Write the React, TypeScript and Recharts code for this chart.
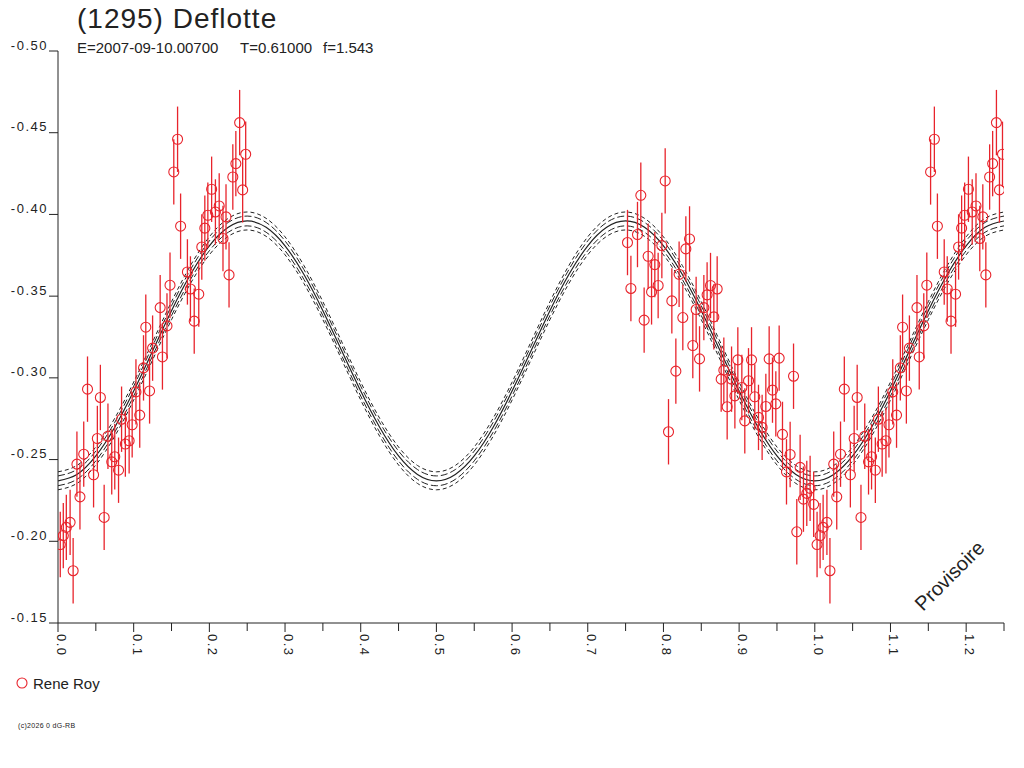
import React from 'react'
import {
  ComposedChart,
  Line,
  Scatter,
  ErrorBar,
  XAxis,
  YAxis,
} from 'recharts'

// observations, phase 0.00 - 0.25 (also plotted again at phase + 1)
const PHASE_A = [
  0.003, 0.007, 0.011, 0.016, 0.02, 0.025, 0.029, 0.034, 0.039, 0.047,
  0.052, 0.056, 0.061, 0.066, 0.071, 0.075, 0.08, 0.084, 0.089, 0.094,
  0.098, 0.103, 0.108, 0.113, 0.116, 0.121, 0.125, 0.135, 0.138, 0.144,
  0.148, 0.153, 0.158, 0.162, 0.171, 0.175, 0.18, 0.186, 0.19, 0.194,
  0.198, 0.203, 0.208, 0.213, 0.218, 0.222, 0.226, 0.231, 0.235, 0.24,
  0.244, 0.248,
]
const MAG_A = [
  -0.198, -0.2035, -0.2085, -0.2116, -0.182, -0.2472, -0.2272, -0.2533, -0.2931, -0.2407,
  -0.2629, -0.288, -0.2146, -0.2643, -0.2486, -0.2517, -0.2435, -0.2747, -0.2595, -0.2615,
  -0.2713, -0.2914, -0.2772, -0.3061, -0.331, -0.292, -0.3182, -0.343, -0.3128, -0.3318,
  -0.3567, -0.426, -0.446, -0.3928, -0.3648, -0.3544, -0.3347, -0.3512, -0.3801, -0.3916,
  -0.3995, -0.4154, -0.4015, -0.4052, -0.3853, -0.3985, -0.363, -0.4229, -0.4311, -0.4562,
  -0.415, -0.4368,
]

// observations, phase 0.75 - 1.00
const PHASE_B = [
  0.7525, 0.757, 0.7657, 0.7701, 0.7745, 0.7798, 0.7843, 0.7886, 0.793, 0.7979,
  0.8023, 0.8067, 0.8111, 0.8164, 0.8207, 0.8256, 0.8296, 0.8345, 0.8388, 0.8432,
  0.8477, 0.8534, 0.8577, 0.8622, 0.8666, 0.871, 0.8763, 0.8798, 0.8842, 0.89,
  0.8944, 0.8983, 0.9036, 0.9075, 0.9124, 0.9164, 0.9207, 0.9256, 0.9304, 0.9353,
  0.9397, 0.9441, 0.9485, 0.9529, 0.9573, 0.9626, 0.9674, 0.9719, 0.9762, 0.9806,
  0.985, 0.9894, 0.9938, 0.9985,
]
const MAG_B = [
  -0.3828, -0.3547, -0.3877, -0.4117, -0.3353, -0.3744, -0.3526, -0.3693, -0.3565, -0.381,
  -0.4205, -0.267, -0.3471, -0.3041, -0.3634, -0.3369, -0.3789, -0.385, -0.3198, -0.3418,
  -0.3116, -0.343, -0.3508, -0.3565, -0.3373, -0.3544, -0.2992, -0.3047, -0.2823, -0.2992,
  -0.289, -0.311, -0.2941, -0.2737, -0.2982, -0.311, -0.2884, -0.2758, -0.2697, -0.2825,
  -0.3116, -0.2925, -0.2841, -0.3121, -0.2654, -0.2425, -0.2531, -0.301, -0.2058, -0.2452,
  -0.2258, -0.2293, -0.2324, -0.2226,
]
const ERR = 0.02

// fitted curve
const MODEL_PHASE = [
  0, 0.025, 0.05, 0.075, 0.1, 0.125, 0.15, 0.175, 0.2, 0.225,
  0.25, 0.275, 0.3, 0.325, 0.35, 0.375, 0.4, 0.425, 0.45, 0.475,
  0.5, 0.525, 0.55, 0.575, 0.6, 0.625, 0.65, 0.675, 0.7, 0.725,
  0.75, 0.775, 0.8, 0.825, 0.85, 0.875, 0.9, 0.925, 0.95, 0.975,
  1, 1.025, 1.05, 1.075, 1.1, 1.125, 1.15, 1.175, 1.2, 1.225, 1.25,
]
const MODEL_MAG = [
  -0.237, -0.2409, -0.2522, -0.2698, -0.2919, -0.3165, -0.3411, -0.3632, -0.3808, -0.3921,
  -0.396, -0.3921, -0.3808, -0.3632, -0.3411, -0.3165, -0.2919, -0.2698, -0.2522, -0.2409,
  -0.237, -0.2409, -0.2522, -0.2698, -0.2919, -0.3165, -0.3411, -0.3632, -0.3808, -0.3921,
  -0.396, -0.3921, -0.3808, -0.3632, -0.3411, -0.3165, -0.2919, -0.2698, -0.2522, -0.2409,
  -0.237, -0.2409, -0.2522, -0.2698, -0.2919, -0.3165, -0.3411, -0.3632, -0.3808, -0.3921, -0.396,
]
const BAND_INNER = 0.003
const BAND_OUTER = 0.0055

const X_TICKS = [
  0, 0.05, 0.1, 0.15, 0.2, 0.25, 0.3, 0.35, 0.4, 0.45, 0.5, 0.55, 0.6,
  0.65, 0.7, 0.75, 0.8, 0.85, 0.9, 0.95, 1, 1.05, 1.1, 1.15, 1.2, 1.25,
]
const Y_TICKS = [-0.5, -0.45, -0.4, -0.35, -0.3, -0.25, -0.2, -0.15]

const RED = '#e8242c'
const INK = '#222'
const FONT = '"Liberation Sans", Arial, sans-serif'

const modelData = MODEL_PHASE.map((phase, i) => ({
  phase,
  mid: MODEL_MAG[i],
  in1: MODEL_MAG[i] - BAND_INNER,
  in2: MODEL_MAG[i] + BAND_INNER,
  out1: MODEL_MAG[i] - BAND_OUTER,
  out2: MODEL_MAG[i] + BAND_OUTER,
}))

const points = [
  ...PHASE_A.map((phase, i) => ({ phase, mag: MAG_A[i], err: ERR })),
  ...PHASE_B.map((phase, i) => ({ phase, mag: MAG_B[i], err: ERR })),
  ...PHASE_A.map((phase, i) => ({ phase: phase + 1, mag: MAG_A[i], err: ERR })),
]

const XTick = (props: any) => {
  const { x, y, payload } = props
  const v = payload.value
  const major = Math.round(v * 100) % 10 === 0
  const tx = x - 1
  const ty = y + 11
  return (
    <g>
      <line x1={x} y1={y} x2={x} y2={y + (major ? 9 : 8)} stroke={INK} />
      {major && (
        <text
          x={tx}
          y={ty}
          transform={`rotate(90 ${tx} ${ty})`}
          fontFamily={FONT}
          fontSize={13}
          letterSpacing={1.5}
          fill={INK}
        >
          {v.toFixed(1)}
        </text>
      )}
    </g>
  )
}

const YTick = (props: any) => {
  const { x, y, payload } = props
  return (
    <g>
      <line x1={x - 9} y1={y} x2={x} y2={y} stroke={INK} />
      <text
        x={x - 10}
        y={y - 1.5}
        textAnchor="end"
        fontFamily={FONT}
        fontSize={13}
        letterSpacing={1.5}
        fill={INK}
      >
        {payload.value.toFixed(2)}
      </text>
    </g>
  )
}

const Ring = (props: any) => {
  const { cx, cy } = props
  return <circle cx={cx} cy={cy} r={5} fill="none" stroke={RED} strokeWidth={1.1} />
}

export default function App() {
  return (
    <div style={{ position: 'absolute', left: 0, top: 0, width: 1024, height: 768, background: '#fff' }}>
      <ComposedChart
        width={1024}
        height={768}
        data={modelData}
        margin={{ top: 51, right: 20, left: 0, bottom: 0 }}
      >
        <XAxis
          dataKey="phase"
          type="number"
          domain={[0, 1.25]}
          ticks={X_TICKS}
          interval={0}
          allowDataOverflow
          height={145}
          tickSize={0}
          tickMargin={0}
          tickLine={false}
          axisLine={{ stroke: INK }}
          tick={<XTick />}
        />
        <YAxis
          type="number"
          domain={[-0.5, -0.15]}
          reversed
          ticks={Y_TICKS}
          interval={0}
          allowDataOverflow
          width={58}
          tickSize={0}
          tickMargin={0}
          tickLine={false}
          axisLine={{ stroke: INK }}
          tick={<YTick />}
        />
        <Line type="natural" dataKey="out1" stroke={INK} strokeWidth={1} strokeDasharray="4 3" dot={false} isAnimationActive={false} />
        <Line type="natural" dataKey="in1" stroke={INK} strokeWidth={1} strokeDasharray="7 3" dot={false} isAnimationActive={false} />
        <Line type="natural" dataKey="mid" stroke={INK} strokeWidth={1.2} dot={false} isAnimationActive={false} />
        <Line type="natural" dataKey="in2" stroke={INK} strokeWidth={1} strokeDasharray="7 3" dot={false} isAnimationActive={false} />
        <Line type="natural" dataKey="out2" stroke={INK} strokeWidth={1} strokeDasharray="4 3" dot={false} isAnimationActive={false} />
        <Scatter data={points} dataKey="mag" shape={<Ring />} isAnimationActive={false}>
          <ErrorBar dataKey="err" direction="y" width={0} stroke={RED} strokeWidth={1.3} isAnimationActive={false} />
        </Scatter>
      </ComposedChart>

      <svg
        width={1024}
        height={768}
        style={{ position: 'absolute', left: 0, top: 0, pointerEvents: 'none' }}
      >
        <text x={77} y={28} fontFamily={FONT} fontSize={28} letterSpacing={1} fill={INK}>
          (1295) Deflotte
        </text>
        <g fontFamily={FONT} fontSize={15} fill={INK}>
          <text x={77} y={53}>E=2007-09-10.00700</text>
          <text x={240} y={53}>T=0.61000</text>
          <text x={323} y={53}>f=1.543</text>
        </g>
        <text
          x={923}
          y={612}
          transform="rotate(-45 923 612)"
          fontFamily={FONT}
          fontSize={20}
          fill={INK}
        >
          Provisoire
        </text>
        <circle cx={22} cy={683} r={5} fill="none" stroke={RED} strokeWidth={1.1} />
        <text x={33} y={688.5} fontFamily={FONT} fontSize={15} fill={INK}>
          Rene Roy
        </text>
        <text x={18} y={728} fontFamily={FONT} fontSize={7} letterSpacing={0.3} fill={INK}>
          (c)2026 0 dG-RB
        </text>
      </svg>
    </div>
  )
}
